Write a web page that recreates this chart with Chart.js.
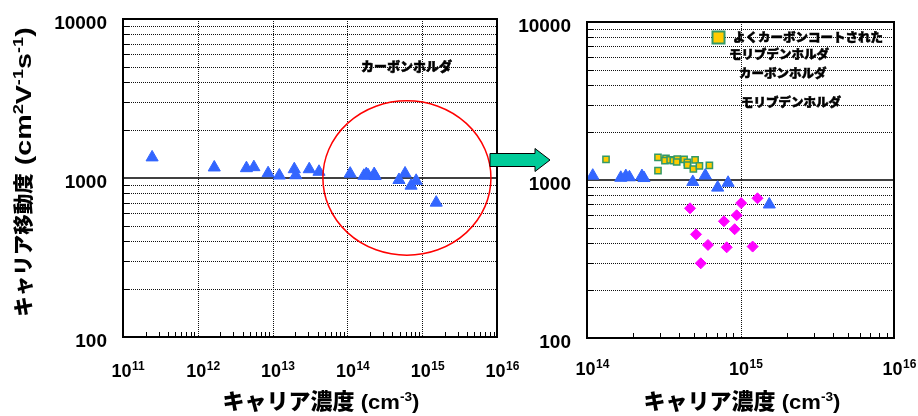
<!DOCTYPE html>
<html lang="ja">
<head>
<meta charset="utf-8">
<title>キャリア移動度とキャリア濃度</title>
<script src="https://cdn.jsdelivr.net/npm/chart.js@4.4.1/dist/chart.umd.min.js"></script>
<style>
  html, body { margin: 0; padding: 0; background: #fff; }
  #wrap { position: relative; width: 918px; height: 416px; overflow: hidden; }
  #leftChart { position: absolute; left: 0; top: 0; }
  #rightChart { position: absolute; left: 510px; top: 0; }
  #arrow { position: absolute; left: 0; top: 0; pointer-events: none; }
</style>
</head>
<body>
<div id="wrap">
  <canvas id="leftChart" width="540" height="416"></canvas>
  <canvas id="rightChart" width="408" height="416"></canvas>
  <!-- 拡大図への矢印 -->
  <svg id="arrow" width="918" height="416">
    <polygon points="490,153.5 535,153.5 535,148.5 550,160 535,171.5 535,166.5 490,166.5" fill="#00CC99" stroke="#000" stroke-width="1"/>
  </svg>
</div>
<script>
// カーボンホルダ（▲）: キャリア濃度 [cm^-3] と移動度 [cm2/Vs]
const carbonConc = [2.45e11, 1.66e12, 4.47e12, 5.62e12, 8.71e12, 1.23e13, 1.95e13, 2.04e13, 3.09e13, 4.17e13,
                    1.09e14, 1.66e14, 1.79e14, 1.89e14, 2.28e14, 2.35e14, 4.89e14, 5.90e14, 7.10e14, 8.30e14, 1.54e15];
const carbonMob  = [1348, 1165, 1153, 1170, 1072, 1037, 1136, 1041, 1136, 1094,
                    1065, 1033, 1059, 1040, 1059, 1029, 972, 1068, 895, 960, 700];

// よくカーボンコートされたモリブデンホルダ（■）
const coatedConc = [1.33e14, 2.90e14, 2.90e14, 3.27e14, 3.22e14, 3.48e14, 3.65e14, 3.87e14,
                    3.84e14, 4.29e14, 4.51e14, 4.51e14, 5.06e14, 4.93e14, 5.40e14, 6.27e14];
const coatedMob  = [1352, 1392, 1145, 1372, 1325, 1340, 1325, 1358,
                    1300, 1352, 1294, 1244, 1340, 1174, 1227, 1239];

// モリブデンホルダ（◆）
const molyConc = [4.69e14, 1.01e15, 1.29e15, 9.44e14, 7.80e14, 9.16e14, 5.13e14, 6.14e14, 8.13e14, 1.20e15, 5.51e14];
const molyMob  = [662, 714, 766, 598, 548, 488, 453, 388, 375, 379, 297];

// 軸の目盛り
const mobilityTicks = [100, 1000, 10000];
const leftConcTicks = [1e11, 1e12, 1e13, 1e14, 1e15, 1e16];
const rightConcTicks = [1e14, 1e15, 1e16];

// 左図で丸く囲む範囲（濃度, 移動度）
const circleConc = [4.7e13, 8.3e15];
const circleMob = [327, 3060];

const legendLines = ['よくカーボンコートされた', 'モリブデンホルダ', 'カーボンホルダ', 'モリブデンホルダ'];

const sans = '"Liberation Sans", Arial, sans-serif';
const jp = '"Noto Sans CJK JP", sans-serif';

// 2〜9 × 10^n の補助目盛り
function minorValues(lo, hi) {
  const out = [];
  for (let e = Math.round(Math.log10(lo)); e < Math.round(Math.log10(hi)); e++) {
    for (let m = 2; m <= 9; m++) out.push(m * Math.pow(10, e));
  }
  return out;
}

function crisp(v) { return Math.round(v) + 0.5; }

// 上付き文字を含む文字列を描く（sx で横方向に引き伸ばす）
function drawRich(ctx, parts, cx, cy, angle) {
  ctx.save();
  ctx.translate(cx, cy);
  ctx.rotate(angle);
  ctx.textAlign = 'left';
  ctx.textBaseline = 'alphabetic';
  let total = 0;
  parts.forEach(p => { ctx.font = p.font; p.w = ctx.measureText(p.text).width * (p.sx || 1); total += p.w; });
  let x = -total / 2;
  parts.forEach(p => {
    ctx.save();
    ctx.font = p.font;
    ctx.translate(x, 0);
    ctx.scale(p.sx || 1, 1);
    ctx.fillText(p.text, 0, 7 - (p.rise || 0));
    ctx.restore();
    x += p.w;
  });
  ctx.restore();
}

const frame = {
  id: 'frame',
  beforeDatasetsDraw(chart, args, o) {
    const { ctx, chartArea: a, scales: { x, y } } = chart;
    ctx.save();
    ctx.lineWidth = 1;
    ctx.strokeStyle = '#111';
    ctx.setLineDash([1, 1]);
    minorValues(100, 10000).forEach(v => {
      const yy = crisp(y.getPixelForValue(v));
      ctx.beginPath(); ctx.moveTo(a.left, yy); ctx.lineTo(a.right, yy); ctx.stroke();
    });
    o.xGrid.forEach(v => {
      const xx = crisp(x.getPixelForValue(v));
      ctx.beginPath(); ctx.moveTo(xx, a.top); ctx.lineTo(xx, a.bottom); ctx.stroke();
    });
    ctx.setLineDash([]);
    ctx.strokeStyle = '#000';
    // 内向きの短い目盛り
    minorValues(100, 10000).forEach(v => {
      const yy = crisp(y.getPixelForValue(v));
      ctx.beginPath(); ctx.moveTo(a.left, yy); ctx.lineTo(a.left + 6, yy); ctx.stroke();
    });
    minorValues(x.min, x.max).forEach(v => {
      const xx = crisp(x.getPixelForValue(v));
      ctx.beginPath(); ctx.moveTo(xx, a.bottom); ctx.lineTo(xx, a.bottom - 5); ctx.stroke();
    });
    // 1000 の基準線
    ctx.lineWidth = 1.5;
    const y1 = y.getPixelForValue(1000);
    ctx.beginPath(); ctx.moveTo(a.left, y1); ctx.lineTo(a.right, y1); ctx.stroke();
    ctx.restore();
  },
  afterDatasetsDraw(chart, args, o) {
    const { ctx, chartArea: a, scales: { x, y } } = chart;
    ctx.save();
    ctx.strokeStyle = '#000';
    ctx.lineWidth = 2;
    ctx.strokeRect(a.left, a.top, a.right - a.left, a.bottom - a.top);

    ctx.fillStyle = '#000';
    // 縦軸の目盛りラベル
    ctx.font = 'bold 19px ' + sans;
    ctx.textAlign = 'right';
    ctx.textBaseline = 'middle';
    mobilityTicks.forEach(v => ctx.fillText(String(v), a.left - 16, y.getPixelForValue(v) + 5));

    // 横軸の目盛りラベル 10^n
    o.xLabels.forEach(v => {
      const xx = x.getPixelForValue(v) - 1.5;
      ctx.font = 'bold 18px ' + sans;
      ctx.textAlign = 'center';
      ctx.textBaseline = 'alphabetic';
      ctx.fillText('10', xx, o.labelBase);
      const w = ctx.measureText('10').width;
      ctx.font = 'bold 12px ' + sans;
      ctx.textAlign = 'left';
      ctx.fillText(String(Math.round(Math.log10(v))), xx + w / 2 + 0.5, o.labelBase - 7);
    });

    // 軸タイトル
    drawRich(ctx, [
      { text: 'キャリア濃度', font: '900 22px ' + jp },
      { text: ' (cm', font: 'bold 21px ' + sans, sx: 1.05 },
      { text: '-3', font: 'bold 13px ' + sans, rise: 8, sx: 1.05 },
      { text: ')', font: 'bold 21px ' + sans, sx: 1.05 }
    ], o.xTitleX, 402, 0);
    if (o.yTitle) {
      drawRich(ctx, [
        { text: 'キャリア移動度', font: '900 20.5px ' + jp },
        { text: ' (cm', font: 'bold 22px ' + sans, sx: 1.3 },
        { text: '2', font: 'bold 14px ' + sans, rise: 8, sx: 1.3 },
        { text: 'V', font: 'bold 22px ' + sans, sx: 1.3 },
        { text: '-1', font: 'bold 14px ' + sans, rise: 8, sx: 1.3 },
        { text: 's', font: 'bold 22px ' + sans, sx: 1.3 },
        { text: '-1', font: 'bold 14px ' + sans, rise: 8, sx: 1.3 },
        { text: ')', font: 'bold 22px ' + sans, sx: 1.3 }
      ], 24, 172, -Math.PI / 2);
    }

    // 図中の注記
    ctx.strokeStyle = '#000';
    ctx.lineWidth = 0.5;
    (o.notes || []).forEach(n => {
      ctx.font = '900 ' + n.size + 'px ' + jp;
      ctx.textAlign = 'left';
      ctx.textBaseline = 'middle';
      ctx.fillText(n.text, n.x, n.y);
      ctx.strokeText(n.text, n.x, n.y);
    });

    if (o.marker) {
      ctx.fillStyle = '#FFCC00';
      ctx.strokeStyle = '#339966';
      ctx.lineWidth = 2;
      ctx.fillRect(o.marker.x - 6, o.marker.y - 6, 12, 12);
      ctx.strokeRect(o.marker.x - 6, o.marker.y - 6, 12, 12);
    }

    // 注目範囲の楕円
    if (o.circle) {
      const x0 = x.getPixelForValue(circleConc[0]), x1 = x.getPixelForValue(circleConc[1]);
      const yT = y.getPixelForValue(circleMob[1]), yB = y.getPixelForValue(circleMob[0]);
      ctx.strokeStyle = '#FF0000';
      ctx.lineWidth = 1.5;
      ctx.beginPath();
      ctx.ellipse((x0 + x1) / 2, (yT + yB) / 2, (x1 - x0) / 2, (yB - yT) / 2, 0, 0, Math.PI * 2);
      ctx.stroke();
    }
    ctx.restore();
  }
};

function points(xs, ys, lo) {
  return xs.map((v, i) => ({ x: v, y: ys[i] })).filter(p => p.x >= lo);
}

const triangle = { pointStyle: 'triangle', pointRadius: 7, pointHoverRadius: 7,
  pointBackgroundColor: '#3366FF', pointBorderColor: '#3366FF', pointBorderWidth: 1 };
const square = { pointStyle: 'rect', pointRadius: 4.4, pointHoverRadius: 4.4,
  pointBackgroundColor: '#FFCC00', pointBorderColor: '#339966', pointBorderWidth: 1.5 };
const diamond = { pointStyle: 'rectRot', pointRadius: 5.5, pointHoverRadius: 5.5,
  pointBackgroundColor: '#FF00FF', pointBorderColor: '#FF00FF', pointBorderWidth: 1 };

function baseOptions(padding, xMin, xMax, frameOpts) {
  return {
    responsive: false,
    animation: false,
    devicePixelRatio: 1,
    layout: { padding },
    scales: {
      x: { type: 'logarithmic', min: xMin, max: xMax, display: false },
      y: { type: 'logarithmic', min: 100, max: 10000, display: false }
    },
    plugins: { legend: { display: false }, tooltip: { enabled: false }, frame: frameOpts }
  };
}

// 左図: 全濃度範囲
new Chart(document.getElementById('leftChart'), {
  type: 'scatter',
  data: {
    datasets: [
      Object.assign({ label: 'カーボンホルダ', data: points(carbonConc, carbonMob, 1e11) }, triangle)
    ]
  },
  options: baseOptions({ left: 123, top: 19, right: 43, bottom: 79 }, 1e11, 1e16, {
    xGrid: [1e12, 1e13, 1e14, 1e15],
    xLabels: leftConcTicks,
    labelBase: 376.5,
    xTitleX: 321,
    yTitle: true,
    circle: true,
    notes: [{ text: 'カーボンホルダ', x: 361, y: 66, size: 13 }]
  }),
  plugins: [frame]
});

// 右図: 10^14〜10^16 の拡大
new Chart(document.getElementById('rightChart'), {
  type: 'scatter',
  data: {
    datasets: [
      Object.assign({ label: 'カーボンホルダ', data: points(carbonConc, carbonMob, 1e14) }, triangle),
      Object.assign({ label: 'モリブデンホルダ', data: points(molyConc, molyMob, 1e14) }, diamond),
      Object.assign({ label: 'よくカーボンコートされたモリブデンホルダ', data: points(coatedConc, coatedMob, 1e14) }, square)
    ]
  },
  options: baseOptions({ left: 77, top: 22, right: 24, bottom: 78 }, 1e14, 1e16, {
    xGrid: [1e15],
    xLabels: rightConcTicks,
    labelBase: 375,
    xTitleX: 232,
    yTitle: false,
    marker: { x: 208.5, y: 37.5 },
    notes: [
      { text: legendLines[0], x: 223, y: 37, size: 12.5 },
      { text: legendLines[1], x: 219, y: 54, size: 12.5 },
      { text: legendLines[2], x: 229, y: 73, size: 12.5 },
      { text: legendLines[3], x: 231, y: 102, size: 12.5 }
    ]
  }),
  plugins: [frame]
});
</script>
</body>
</html>
